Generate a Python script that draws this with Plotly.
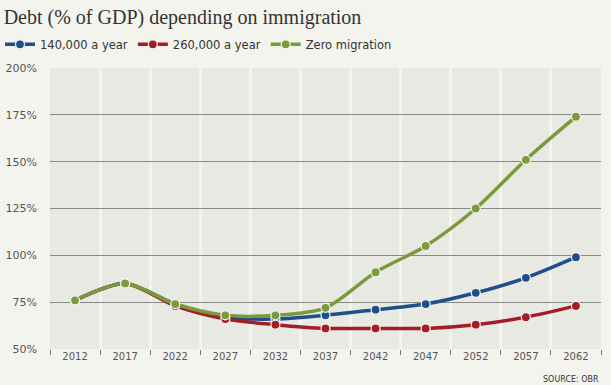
import plotly.graph_objects as go

years = ["2012", "2017", "2022", "2027", "2032", "2037", "2042", "2047", "2052", "2057", "2062"]
s140 = [76, 85, 74, 67, 66, 68, 71, 74, 80, 88, 99]
s260 = [76, 85, 73, 66, 63, 61, 61, 61, 63, 67, 73]
zero = [76, 85, 74, 68, 68, 72, 91, 105, 125, 151, 174]
y_ticks = [50, 75, 100, 125, 150, 175, 200]
y_labels = [f"{v}%" for v in y_ticks]

series = [
    ("140,000 a year", s140, "#1d4f8a"),
    ("260,000 a year", s260, "#a31d26"),
    ("Zero migration", zero, "#7a9a3c"),
]

fig = go.Figure()
for name, vals, col in series:
    fig.add_trace(go.Scatter(
        x=years, y=vals, name=name, mode="lines+markers",
        line=dict(color=col, width=3.5, shape="spline", smoothing=0.8),
        marker=dict(color=col, size=9, line=dict(color="#f4f4ef", width=1.2)),
    ))

fig.update_layout(
    width=611, height=385,
    paper_bgcolor="#f4f4ef", plot_bgcolor="#e9e9e4",
    margin=dict(l=50, r=10, t=68, b=36, autoexpand=False),
    title=dict(text="Debt (% of GDP) depending on immigration",
               x=0.006, xanchor="left", xref="container",
               y=0.955, yanchor="middle", yref="container",
               font=dict(family="Liberation Serif", size=20, color="#333333")),
    legend=dict(orientation="h", x=-0.012, xanchor="left", xref="container",
                y=0.885, yanchor="middle", yref="container",
                font=dict(family="DejaVu Sans", size=11.5, color="#333333"),
                itemwidth=30, tracegroupgap=0, bgcolor="rgba(0,0,0,0)"),
    showlegend=True,
    font=dict(family="DejaVu Sans", color="#555555"),
)
fig.update_xaxes(
    type="category", range=[-0.5, len(years) - 0.5], tickson="boundaries", showgrid=True,
    gridcolor="#f4f4ef", gridwidth=2.5,
    ticks="outside", ticklen=5, tickcolor="#777777",
    tickfont=dict(size=10, color="#555555"),
    showline=False, zeroline=False, automargin=False,
)
fig.update_yaxes(
    range=[50, 200], tickvals=y_ticks, ticktext=y_labels,
    showgrid=True, gridcolor="#8a8a8a", gridwidth=1.2,
    tickfont=dict(size=11, color="#555555"), ticklabelstandoff=12,
    zeroline=False, showline=False, automargin=False,
)
fig.add_annotation(text="SOURCE: OBR", xref="paper", yref="paper",
                   x=1.0, y=-0.085, xanchor="right", yanchor="top", showarrow=False,
                   font=dict(family="DejaVu Sans", size=8, color="#333333"))

fig.write_html("out.html", config={"displayModeBar": False},
               post_script="document.body.style.margin='0';document.body.style.overflow='hidden';")
